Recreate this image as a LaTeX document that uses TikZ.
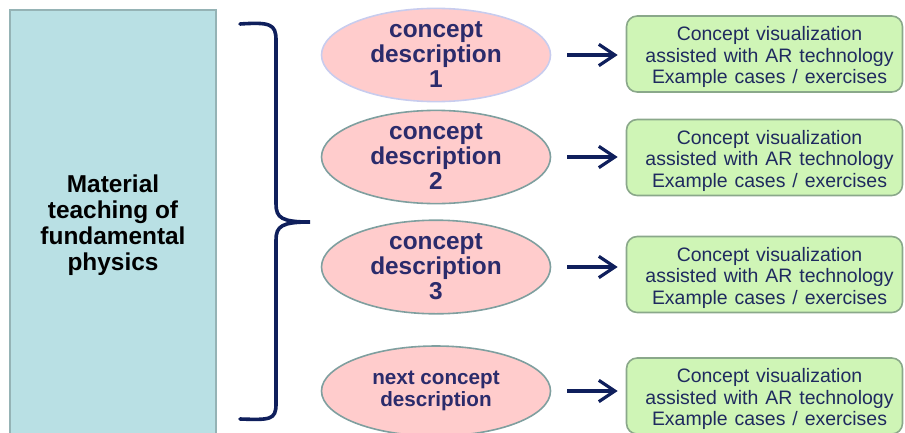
\documentclass[tikz,border=0pt]{standalone}
\usepackage{fontspec}
\setmainfont{Liberation Sans}
\usetikzlibrary{arrows.meta}
\definecolor{matfill}{HTML}{B9E0E4}
\definecolor{matline}{HTML}{95B3B5}
\definecolor{pinkfill}{HTML}{FFCCCC}
\definecolor{pinkline}{HTML}{7F9F9F}
\definecolor{lavline}{HTML}{C8CCEE}
\definecolor{greenfill}{HTML}{CFF5B6}
\definecolor{greenline}{HTML}{8AA88A}
\definecolor{navy}{HTML}{0F1F5C}
\definecolor{conceptink}{HTML}{2B2B6B}
\definecolor{visink}{HTML}{1F2A5F}
\newcommand\vistext{\hspace*{7.5pt}\raisebox{0pt}[\dimexpr\height+6pt\relax][\depth]{\begin{tabular}{@{}c@{}}Concept visualization\\assisted with AR technology\\Example cases / exercises\end{tabular}}}
\tikzset{
  matbox/.style={draw=matline, fill=matfill, line width=1.2pt, minimum width=154.5pt, minimum height=322.5pt, inner sep=0pt, align=center, font=\fontsize{18.3}{19.5}\selectfont\bfseries},
  concept/.style={ellipse, draw=pinkline, fill=pinkfill, line width=1.2pt, minimum width=171.75pt, minimum height=67.5pt, inner sep=0pt, align=center, text=conceptink, font=\fontsize{18.3}{18.75}\selectfont\bfseries},
  visbox/.style={draw=greenline, fill=greenfill, rounded corners=8pt, line width=1.2pt, minimum width=207pt, minimum height=57pt, inner sep=0pt, text=visink, font={\fontsize{14.6}{16.1}\selectfont\spaceskip=5.2pt\relax}},
  flow/.style={navy, line width=2.4pt, -{Straight Barb[length=12pt, width=16pt, line width=2.4pt]}, shorten <=12pt, shorten >=6pt},
  brace/.style={navy, line width=2.7pt, line cap=round}
}
\usetikzlibrary{shapes.geometric}
\begin{document}
\begin{tikzpicture}[x=0.75pt, y=-0.75pt]
  \useasboundingbox (0,0) rectangle (905,432);
  \clip (0,0) rectangle (905,432);
  \node[matbox] (mat) at (113,225) {Material\\teaching of\\fundamental\\physics};
  \node[concept, draw=lavline] (c1) at (436,55) {concept\\description\\1};
  \node[concept] (c2) at (436,157) {concept\\description\\2};
  \node[concept] (c3) at (436,267) {concept\\description\\3};
  \node[concept, font=\fontsize{15.5}{16.5}\selectfont\bfseries] (c4) at (436,391) {next concept\\description};
  \foreach \i/\y in {1/54, 2/157.5, 3/274.5, 4/396}
    \node[visbox] (v\i) at (764.5,\y) {\vistext};
  \foreach \i in {1,...,4}
    \draw[flow] (c\i.east) -- (c\i.east -| v\i.west);
  % brace
  \coordinate (tip) at (310,222);
  \draw[brace] (240,24) .. controls (270,22) and (276,24) .. (276,40) -- (276,204)
    .. controls (276,218) and (282,222) .. (tip)
    .. controls (282,222) and (276,226) .. (276,240) -- (276,404)
    .. controls (276,420) and (270,420) .. (240,419);
\end{tikzpicture}
\end{document}
